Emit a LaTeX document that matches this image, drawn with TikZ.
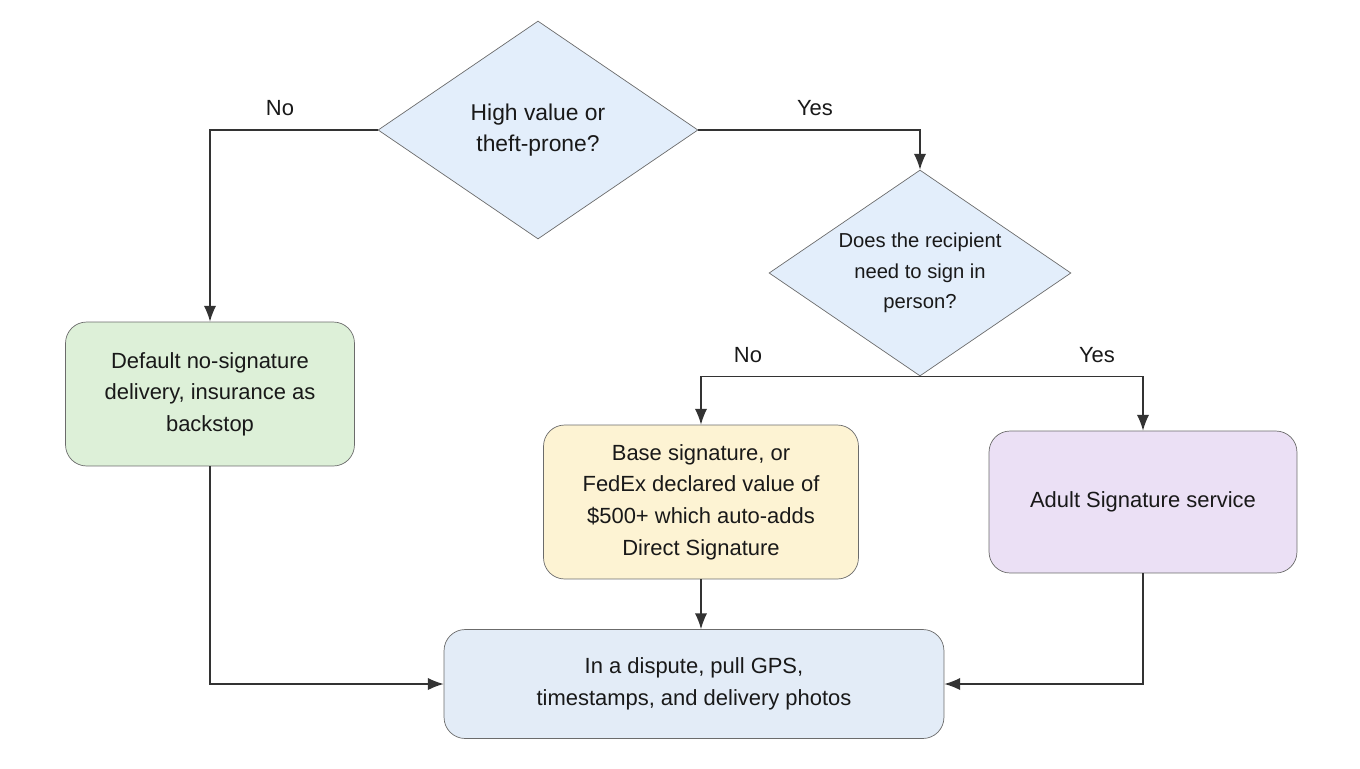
\documentclass[tikz,border=0pt]{standalone}
\usepackage{fontspec}
\setmainfont{Liberation Sans}
\usetikzlibrary{shapes.geometric}
\usetikzlibrary{arrows.meta}

\definecolor{qfill}{HTML}{E3EEFB}
\definecolor{gfill}{HTML}{DDF0D8}
\definecolor{yfill}{HTML}{FDF3D3}
\definecolor{pfill}{HTML}{EBE0F5}
\definecolor{bfill}{HTML}{E3ECF7}
\definecolor{edge}{HTML}{6B6B6B}

\tikzset{
  txt/.style={font=\fontsize{12.5}{18}\selectfont, align=center, text=black!90},
  decision/.style={txt, diamond, draw=edge, fill=qfill, inner sep=0pt},
  step/.style={txt, rectangle, rounded corners=12pt, draw=edge, fill=#1},
  link/.style={-{Latex[length=9pt,width=7pt]}, draw=black!80, line width=0.8pt},
  lbl/.style={txt}
}

\begin{document}
\begin{tikzpicture}[x=0.02cm, y=-0.02cm]
            \useasboundingbox (0,0) rectangle (1360,768);
            
            % Decisions
            \node[decision, minimum width=6.4cm, minimum height=4.36cm, font=\fontsize{13}{18}\selectfont] (value) at (538,130) {High value or\\theft-prone?};
            \node[decision, inner sep=-9pt, minimum width=6.04cm, minimum height=4.12cm, font=\fontsize{11.5}{17.5}\selectfont] (sign) at (920,273) {Does the recipient\\need to sign in\\person?};
            
            % Outcomes
            \node[step=gfill, minimum width=5.78cm, minimum height=2.88cm] (nosig) at (210,394) {Default no-signature\\delivery, insurance as\\backstop};
            \node[step=yfill, minimum width=6.3cm, minimum height=3.08cm] (base) at (701,502) {Base signature, or\\FedEx declared value of\\\$500+ which auto-adds\\Direct Signature};
            \node[step=pfill, minimum width=6.16cm, minimum height=2.84cm] (adult) at (1143,502) {Adult Signature service};
            \node[step=bfill, minimum width=10cm, minimum height=2.18cm] (dispute) at (694,684) {In a dispute, pull GPS,\\timestamps, and delivery photos};
            
            % Branches from the first question
            \draw[link] (value.west) -| (nosig.north);
            \draw[link] (value.east) -| (sign.north);
            \node[lbl] at (280,108) {No};
            \node[lbl] at (815,108) {Yes};
            
            % Branches from the second question
            \draw[link] (sign.south) -| (base.north);
            \draw[link] (sign.south) -| (adult.north);
            \node[lbl] at (748,355) {No};
            \node[lbl] at (1097,355) {Yes};
            
            % Into the final step
            \draw[link] (nosig.south) |- (dispute.west);
            \draw[link] (base.south) -- (base.south |- dispute.north);
            \draw[link] (adult.south) |- (dispute.east);
            
        \end{tikzpicture}
\end{document}
